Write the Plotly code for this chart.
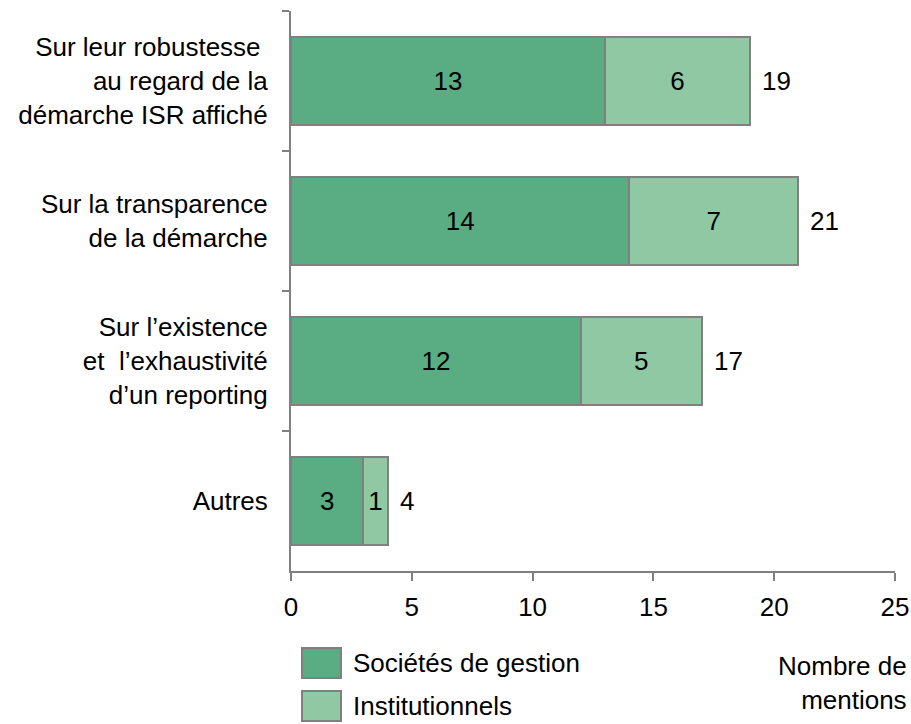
import plotly.graph_objects as go

categories = [
    "Sur leur robustesse\u00a0<br>au regard de la<br>démarche ISR affiché",
    "Sur la transparence<br>de la démarche",
    "Sur l\u2019existence<br>et \u00a0l\u2019exhaustivité<br>d\u2019un reporting",
    "Autres",
]
societes = [13, 14, 12, 3]
institutionnels = [6, 7, 5, 1]
series_names = ["Sociétés de gestion", "Institutionnels"]
x_ticks = [0, 5, 10, 15, 20, 25]

dark_green = "#5aad82"
light_green = "#8fc8a2"
grey = "#808080"
font = "Liberation Sans, Arial, sans-serif"

totals = [a + b for a, b in zip(societes, institutionnels)]

fig = go.Figure()
for name, vals, col in [
    (series_names[0], societes, dark_green),
    (series_names[1], institutionnels, light_green),
]:
    fig.add_trace(
        go.Bar(
            y=categories,
            x=vals,
            name=name,
            orientation="h",
            width=0.63,
            marker=dict(color=col, line=dict(color=grey, width=2)),
            text=[str(v) for v in vals],
            textposition="inside",
            insidetextanchor="middle",
            textangle=0,
            constraintext="none",
            textfont=dict(family=font, size=26, color="black"),
            showlegend=False,
            hoverinfo="skip",
        )
    )

# totals to the right of each bar
for cat, tot in zip(categories, totals):
    fig.add_annotation(
        x=tot, y=cat, text=str(tot), showarrow=False,
        xanchor="left", xshift=10,
        font=dict(family=font, size=26, color="black"),
    )

# legend drawn by hand (large swatches)
leg_items = [(series_names[0], dark_green, 663), (series_names[1], light_green, 706)]
for label, col, yc in leg_items:
    y0 = 1 - (yc - 15 - 11) / 560
    y1 = 1 - (yc + 15 - 11) / 560
    fig.add_shape(
        type="rect", xref="paper", yref="paper",
        x0=(302 - 291) / 604, x1=(341 - 291) / 604, y0=y1, y1=y0,
        fillcolor=col, line=dict(color=grey, width=2),
    )
    fig.add_annotation(
        xref="paper", yref="paper", x=(351 - 291) / 604, y=1 - (yc - 11) / 560,
        text=label, showarrow=False, xanchor="left", yanchor="middle",
        font=dict(family=font, size=26, color="black"),
    )

fig.add_annotation(
    xref="paper", yref="paper", x=(909 - 291) / 604, y=1 - (683 - 11) / 560,
    text="Nombre de<br>mentions", showarrow=False, xanchor="right", yanchor="middle",
    align="right", font=dict(family=font, size=26, color="black"),
)

fig.update_layout(
    barmode="stack",
    width=911,
    height=724,
    margin=dict(l=291, r=16, t=11, b=153),
    plot_bgcolor="white",
    paper_bgcolor="white",
    font=dict(family=font, size=26, color="black"),
    xaxis=dict(
        range=[0, 25], tickvals=x_ticks, showgrid=False, zeroline=False,
        showline=True, linecolor=grey, linewidth=2,
        ticks="outside", ticklen=8, tickwidth=2, tickcolor=grey,
        ticklabelstandoff=4, automargin=False,
    ),
    yaxis=dict(
        autorange="reversed", showgrid=False, zeroline=False,
        showline=True, linecolor=grey, linewidth=2,
        ticks="outside", ticklen=7, tickwidth=2, tickcolor=grey,
        tickson="boundaries", ticklabelstandoff=16, automargin=False,
    ),
)

fig.write_html(
    "out.html",
    config={"displayModeBar": False},
    post_script="document.body.style.margin='0';document.body.style.overflow='hidden';",
)
